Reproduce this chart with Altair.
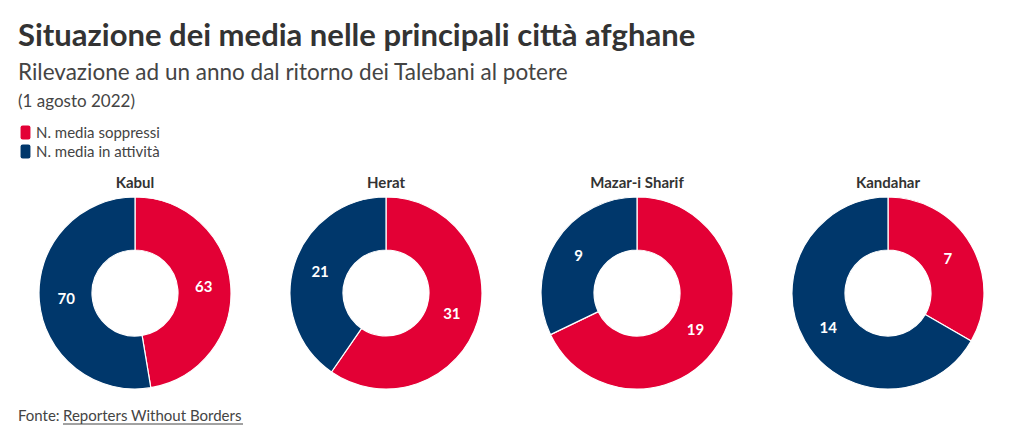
import pandas as pd
import altair as alt

# Dati
cities = ['Kabul', 'Herat', 'Mazar-i Sharif', 'Kandahar']
soppressi = [63, 31, 19, 7]
attivita = [70, 21, 9, 14]
categories = ['N. media soppressi', 'N. media in attività']
colors = ['#E30035', '#00376B']

rows = []
for c, s, a in zip(cities, soppressi, attivita):
    rows.append({'city': c, 'tipo': categories[0], 'n': s, 'ord': 0})
    rows.append({'city': c, 'tipo': categories[1], 'n': a, 'ord': 1})
df = pd.DataFrame(rows)

FONT = 'Lato'
pill = ('M-0.4,-1 H0.4 Q0.7,-1 0.7,-0.7 V0.7 Q0.7,1 0.4,1 H-0.4 Q-0.7,1 -0.7,0.7 '
        'V-0.7 Q-0.7,-1 -0.4,-1 Z')

base = alt.Chart(df).encode(
    theta=alt.Theta('n:Q', stack=True),
    order=alt.Order('ord:Q'),
    color=alt.Color('tipo:N', sort=categories,
                    scale=alt.Scale(domain=categories, range=colors),
                    legend=alt.Legend(title='(1 agosto 2022)', titleFontSize=17,
                                      titleFontWeight='normal', titleColor='#444',
                                      titleFont=FONT, titlePadding=14,
                                      orient='top', direction='vertical',
                                      symbolType=pill, symbolSize=200, symbolStrokeWidth=0,
                                      labelFontSize=15, labelColor='#444', labelFont=FONT,
                                      rowPadding=3, symbolOffset=0, labelOffset=3,
                                      offset=16))
)

arcs = base.mark_arc(outerRadius=96, innerRadius=43, stroke='white', strokeWidth=1.2)
labels = base.mark_text(radius=69, fontSize=15, fontWeight='bold', color='white', font=FONT).encode(
    text=alt.Text('n:Q'),
    color=alt.value('white')
)

donuts = alt.layer(arcs, labels).properties(width=234, height=202).facet(
    column=alt.Column('city:N', sort=cities,
                      header=alt.Header(title=None, labelFontSize=15, labelFontWeight='bold',
                                        labelColor='#333', labelFont=FONT, labelPadding=1))
).properties(spacing=17)

footer_data = pd.DataFrame({'a': ['Fonte: '], 'b': ['Reporters Without Borders']})
f1 = alt.Chart(footer_data).mark_text(align='left', baseline='alphabetic', fontSize=15,
                                      color='#444', font=FONT).encode(
    x=alt.value(0), y=alt.value(14), text='a:N')
f2 = alt.Chart(footer_data).mark_text(align='left', baseline='alphabetic', fontSize=15,
                                      color='#444', font=FONT).encode(
    x=alt.value(45), y=alt.value(14), text='b:N')
f3 = alt.Chart(footer_data).mark_rule(color='#444', strokeWidth=1).encode(
    x=alt.value(45), x2=alt.value(225), y=alt.value(17))
footer = alt.layer(f1, f2, f3).properties(width=400, height=20)

chart = alt.vconcat(donuts, footer, spacing=13).properties(
    title=alt.TitleParams(
        text='Situazione dei media nelle principali città afghane',
        subtitle='Rilevazione ad un anno dal ritorno dei Talebani al potere',
        anchor='start', fontSize=31, fontWeight='bold', color='#333', font=FONT,
        subtitleFontSize=22.5, subtitleColor='#444', subtitleFont=FONT,
        subtitlePadding=9, offset=9
    ),
    padding={'left': 10, 'top': 12, 'right': 5, 'bottom': 5}
).configure_view(stroke=None)

chart.save('out.html', embed_options={'renderer': 'svg', 'actions': False})
